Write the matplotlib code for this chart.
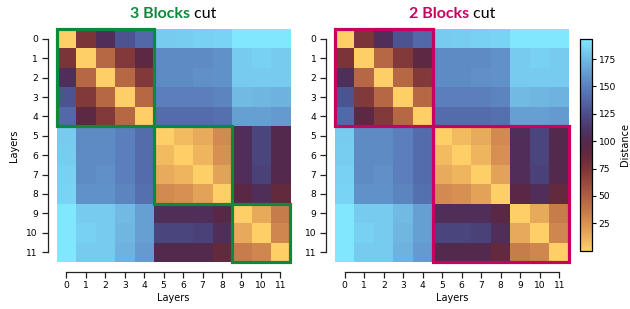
import matplotlib.pyplot as plt
import matplotlib.patches as patches
import matplotlib.transforms as mtransforms
import numpy as np

# layer-to-layer distance matrix (symmetric)
row0 = [0, 75, 105, 128, 138, 182, 183, 184, 185, 193, 193, 193]
row1 = [75, 0, 45, 72, 92, 155, 155, 155, 158, 182, 184, 182]
row2 = [105, 45, 0, 45, 72, 155, 155, 157, 158, 182, 182, 182]
row3 = [128, 72, 45, 0, 45, 150, 150, 150, 152, 175, 174, 172]
row4 = [138, 92, 72, 45, 0, 140, 140, 140, 142, 164, 164, 162]
row5 = [182, 155, 155, 150, 140, 0, 8, 14, 28, 105, 120, 100]
row6 = [183, 155, 155, 150, 140, 8, 0, 10, 25, 105, 120, 100]
row7 = [184, 155, 157, 150, 140, 14, 10, 0, 18, 105, 118, 100]
row8 = [185, 158, 158, 152, 142, 28, 25, 18, 0, 95, 105, 88]
row9 = [193, 182, 182, 175, 164, 105, 105, 105, 95, 0, 15, 35]
row10 = [193, 184, 182, 174, 164, 120, 120, 118, 105, 15, 0, 30]
row11 = [193, 182, 182, 172, 162, 100, 100, 100, 88, 35, 30, 0]
layers = list(range(12))

blocks3 = [(0, 4), (5, 8), (9, 11)]
blocks2 = [(0, 4), (5, 11)]

dist = np.array([row0, row1, row2, row3, row4, row5,
                 row6, row7, row8, row9, row10, row11])

green = '#0b8a3b'
magenta = '#c8005f'

fig = plt.figure(figsize=(6.3, 3.09), dpi=100)
W, H = 630, 309


def px_axes(x0, y0, x1, y1):
    return fig.add_axes([x0 / W, 1 - y1 / H, (x1 - x0) / W, (y1 - y0) / H])


axL = px_axes(56.7, 29.3, 290, 261.7)
axR = px_axes(335, 29.3, 569, 261.7)
cax = px_axes(580, 39.3, 591.7, 250.7)

vmax = dist.max()
for ax, blocks, col, label in [(axL, blocks3, green, '3 Blocks'),
                               (axR, blocks2, magenta, '2 Blocks')]:
    im = ax.imshow(dist, cmap='managua', vmin=0, vmax=vmax, aspect='auto')
    for a, b in blocks:
        ax.add_patch(patches.Rectangle((a - 0.5, a - 0.5), b - a + 1, b - a + 1,
                                       fill=False, edgecolor=col, lw=2.3,
                                       clip_on=False, zorder=3))
    ax.set_xticks(layers)
    ax.set_yticks(layers)
    ax.tick_params(labelsize=6.6, length=4, width=0.9, color='#222222', pad=3)
    for s in ['top', 'right']:
        ax.spines[s].set_visible(False)
    ax.spines['left'].set_position(('outward', 6.5))
    ax.spines['bottom'].set_position(('outward', 7.2))
    ax.spines['left'].set_bounds(0, 11)
    ax.spines['bottom'].set_bounds(0, 11)
    for s in ['left', 'bottom']:
        ax.spines[s].set_color('#222222')
        ax.spines[s].set_linewidth(0.9)
    ax.set_xlabel('Layers', fontsize=7, labelpad=2)

    # two-colour title
    t1 = ax.text(0.5, 1.035, label, transform=ax.transAxes, ha='right',
                 va='bottom', fontsize=11.5, fontweight='bold', color=col,
                 family='Lato')
    t2 = ax.text(0.5, 1.035, ' cut', transform=ax.transAxes, ha='left',
                 va='bottom', fontsize=11.5, color='black', family='Lato')
    fig.canvas.draw()
    r = fig.canvas.get_renderer()
    w1 = t1.get_window_extent(r).width
    w2 = t2.get_window_extent(r).width
    shift = (w1 - w2) / 2
    off = mtransforms.offset_copy(ax.transAxes, fig=fig, x=shift * 72 / fig.dpi,
                                  y=0, units='points')
    t1.set_transform(off)
    t2.set_transform(off)

axL.set_ylabel('Layers', fontsize=7, labelpad=5)

cb = fig.colorbar(im, cax=cax, ticks=[25, 50, 75, 100, 125, 150, 175])
cb.ax.tick_params(labelsize=6.6, length=3, pad=2)
cb.outline.set_linewidth(0.9)
cb.set_label('Distance', fontsize=7, labelpad=3)

fig.savefig('out.png', dpi=100)
